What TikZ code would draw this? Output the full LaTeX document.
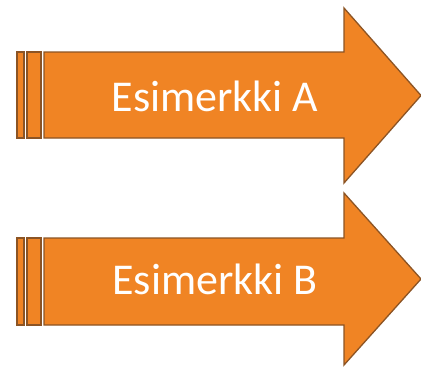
\documentclass[tikz,border=0pt]{standalone}
\usepackage{fontspec}
\setmainfont{Carlito}
\definecolor{arrfill}{RGB}{240,132,36}
\definecolor{arrline}{RGB}{140,84,36}
\begin{document}
\begin{tikzpicture}[x=1pt,y=-1pt,
  shapebox/.style={fill=arrfill,draw=arrline,line width=1.3pt,line join=miter},
  label/.style={text=white,font=\fontsize{44}{50}\selectfont,inner sep=0pt}]
\useasboundingbox (0,0) rectangle (421,368);
% Arrow A
\draw[shapebox] (17,52) rectangle (24,138);
\draw[shapebox] (27,52) rectangle (41,138);
\draw[shapebox] (44,52) -- (344,52) -- (344,8) -- (421,95.5) -- (344,183) -- (344,138) -- (44,138) -- cycle;
\node[label] (a) at (215,96) {Esimerkki A};
% Arrow B
\draw[shapebox] (17,238) rectangle (24,325);
\draw[shapebox] (27,238) rectangle (41,325);
\draw[shapebox] (44,238) -- (344,238) -- (344,193) -- (421,279) -- (344,365) -- (344,325) -- (44,325) -- cycle;
\node[label] (b) at (215,279) {Esimerkki B};
\end{tikzpicture}
\end{document}
